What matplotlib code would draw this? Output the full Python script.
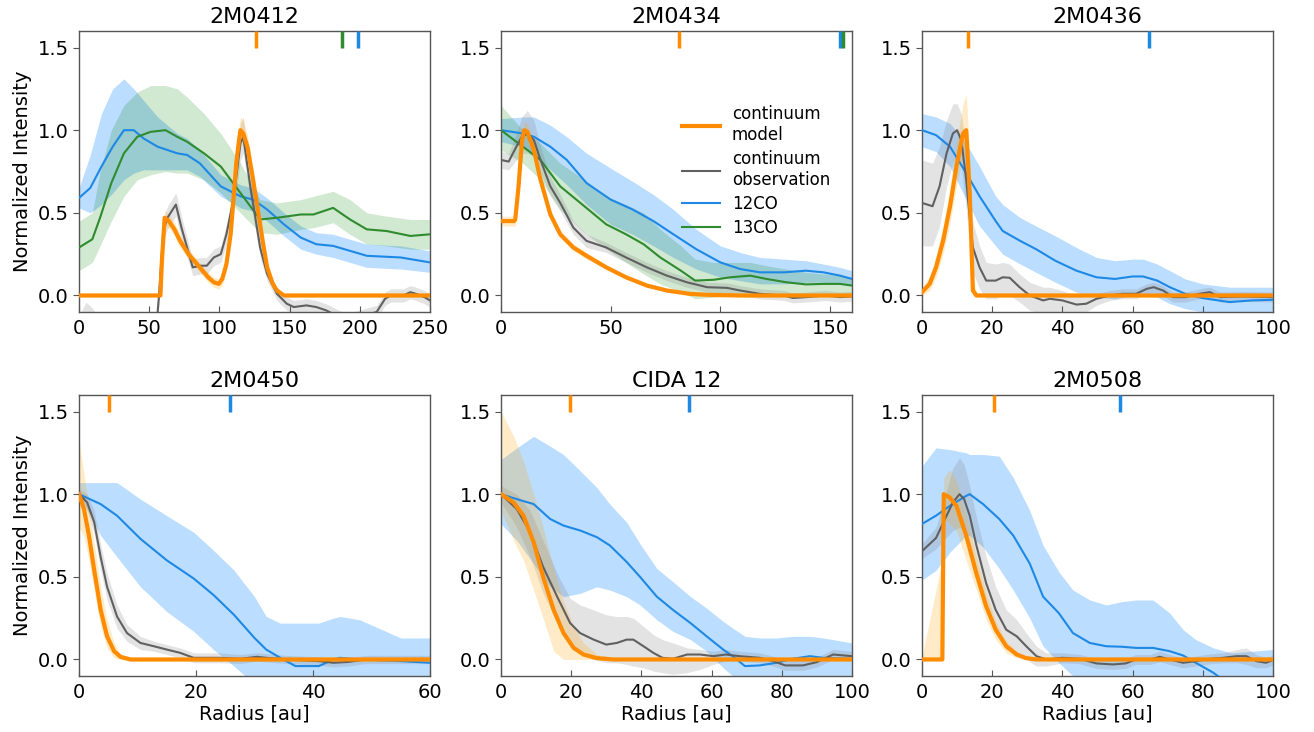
import matplotlib
matplotlib.use("Agg")
import matplotlib.pyplot as plt
from matplotlib.lines import Line2D

# ---------------- data ----------------
titles = ["2M0412", "2M0434", "2M0436", "2M0450", "CIDA 12", "2M0508"]
xlims = [250, 160, 100, 60, 100, 100]
xticks = [[0, 50, 100, 150, 200, 250], [0, 50, 100, 150], [0, 20, 40, 60, 80, 100],
          [0, 20, 40, 60], [0, 20, 40, 60, 80, 100], [0, 20, 40, 60, 80, 100]]
yticks = [0.0, 0.5, 1.0, 1.5]

# top markers (radius) per panel
mark_cont = [126, 81, 13.1, 5.1, 19.6, 20.5]
mark_12co = [199, 154.5, 64.6, 25.8, 53.6, 56.4]
mark_13co = [187, 156, None, None, None, None]

# ---- 2M0412 ----
p1_12_r = [0, 8, 16, 24, 32, 39, 46, 56, 70, 77, 86, 101, 115, 124, 134, 146, 158, 169, 181, 193, 205, 229, 250]
p1_12_y = [0.59, 0.65, 0.78, 0.90, 1.0, 1.0, 0.95, 0.90, 0.86, 0.85, 0.80, 0.66, 0.60, 0.58, 0.52, 0.43, 0.35, 0.31, 0.30, 0.27, 0.24, 0.23, 0.20]
p1_12_hi = [0.65, 0.85, 1.10, 1.25, 1.31, 1.25, 1.18, 1.08, 0.98, 0.95, 0.88, 0.73, 0.67, 0.65, 0.59, 0.50, 0.42, 0.38, 0.37, 0.34, 0.31, 0.30, 0.27]
p1_12_lo = [0.53, 0.50, 0.55, 0.62, 0.70, 0.74, 0.76, 0.76, 0.76, 0.76, 0.72, 0.60, 0.53, 0.51, 0.45, 0.36, 0.28, 0.25, 0.23, 0.20, 0.17, 0.16, 0.14]

p1_13_r = [0, 9.5, 15, 23, 32, 41.5, 51, 61.6, 70, 77, 89, 101, 115, 129, 141, 158, 167, 181, 193, 205, 219, 236, 250]
p1_13_y = [0.29, 0.34, 0.47, 0.68, 0.86, 0.96, 0.99, 1.0, 0.96, 0.93, 0.86, 0.78, 0.62, 0.46, 0.47, 0.49, 0.49, 0.53, 0.46, 0.40, 0.39, 0.36, 0.37]
p1_13_hi = [0.45, 0.50, 0.75, 1.00, 1.15, 1.23, 1.27, 1.27, 1.25, 1.20, 1.10, 0.98, 0.80, 0.58, 0.56, 0.58, 0.60, 0.63, 0.58, 0.50, 0.48, 0.46, 0.46]
p1_13_lo = [0.15, 0.20, 0.30, 0.45, 0.60, 0.70, 0.73, 0.75, 0.74, 0.74, 0.70, 0.62, 0.50, 0.38, 0.37, 0.40, 0.41, 0.44, 0.37, 0.31, 0.30, 0.28, 0.28]

p1_obs_r = [0, 5, 10, 15, 20, 55, 57, 60, 63, 69, 73, 81, 86.5, 91, 96, 101, 105, 110, 115, 117, 122, 129, 134, 141, 148, 153, 162, 169, 176, 190, 212, 218, 222, 231, 236, 240, 246, 250]
p1_obs_y = [-0.2, -0.12, -0.14, -0.2, -0.25, -0.2, 0.0, 0.39, 0.47, 0.55, 0.41, 0.17, 0.18, 0.18, 0.23, 0.25, 0.37, 0.58, 0.92, 0.96, 0.66, 0.29, 0.13, 0.01, -0.05, -0.07, -0.06, -0.07, -0.09, -0.15, -0.1, -0.02, 0.0, 0.0, 0.02, 0.01, -0.01, -0.03]
p1_obs_hi = [-0.12, -0.04, -0.08, -0.15, -0.2, -0.14, 0.06, 0.45, 0.54, 0.62, 0.48, 0.22, 0.23, 0.23, 0.28, 0.30, 0.43, 0.66, 1.04, 1.08, 0.74, 0.35, 0.17, 0.05, -0.01, -0.03, -0.02, -0.03, -0.05, -0.11, -0.06, 0.02, 0.04, 0.04, 0.06, 0.05, 0.03, 0.01]
p1_obs_lo = [-0.3, -0.2, -0.22, -0.27, -0.3, -0.26, -0.06, 0.33, 0.40, 0.48, 0.34, 0.12, 0.13, 0.13, 0.18, 0.20, 0.31, 0.50, 0.82, 0.86, 0.58, 0.23, 0.09, -0.03, -0.09, -0.11, -0.1, -0.11, -0.13, -0.19, -0.14, -0.06, -0.04, -0.04, -0.02, -0.03, -0.05, -0.07]

p1_mod_r = [0, 58, 59, 61, 64, 68, 72, 78, 86, 92, 96, 99.5, 102, 105, 108, 110, 112, 114, 115, 117, 120, 124, 127, 131, 134, 138, 141, 146, 250]
p1_mod_y = [0, 0, 0.2, 0.47, 0.45, 0.40, 0.33, 0.25, 0.17, 0.11, 0.08, 0.07, 0.10, 0.19, 0.37, 0.58, 0.80, 0.94, 1.0, 0.98, 0.90, 0.70, 0.54, 0.32, 0.17, 0.07, 0.03, 0.0, 0.0]
p1_mod_hi = [0.01, 0.01, 0.24, 0.52, 0.49, 0.44, 0.37, 0.28, 0.20, 0.14, 0.11, 0.10, 0.14, 0.24, 0.44, 0.66, 0.88, 1.03, 1.08, 1.06, 0.97, 0.76, 0.59, 0.36, 0.20, 0.09, 0.04, 0.01, 0.01]
p1_mod_lo = [-0.01, -0.01, 0.16, 0.42, 0.41, 0.36, 0.29, 0.22, 0.14, 0.08, 0.05, 0.04, 0.06, 0.14, 0.30, 0.50, 0.72, 0.86, 0.92, 0.90, 0.83, 0.64, 0.49, 0.28, 0.14, 0.05, 0.02, -0.01, -0.01]

# ---- 2M0434 ----
p2_12_r = [0, 10, 15, 22.5, 30, 39, 50, 60, 69.5, 78.6, 89, 100, 109, 118, 129, 139, 147, 154.5, 160]
p2_12_y = [1.0, 0.98, 0.96, 0.90, 0.82, 0.68, 0.58, 0.52, 0.45, 0.37, 0.28, 0.20, 0.16, 0.14, 0.14, 0.15, 0.14, 0.12, 0.10]
p2_12_hi = [1.07, 1.08, 1.08, 1.03, 0.96, 0.86, 0.77, 0.69, 0.61, 0.52, 0.40, 0.30, 0.26, 0.23, 0.22, 0.21, 0.19, 0.17, 0.15]
p2_12_lo = [0.93, 0.90, 0.86, 0.76, 0.67, 0.55, 0.43, 0.37, 0.30, 0.23, 0.16, 0.11, 0.09, 0.07, 0.07, 0.08, 0.08, 0.07, 0.06]

p2_13_r = [0, 10, 18, 27, 38, 48, 57, 65, 72.6, 82, 88.5, 97, 104.5, 113.6, 121, 130, 139, 147, 154.5, 160]
p2_13_y = [1.0, 0.90, 0.82, 0.66, 0.54, 0.43, 0.37, 0.31, 0.23, 0.15, 0.09, 0.095, 0.11, 0.12, 0.10, 0.08, 0.067, 0.07, 0.07, 0.06]
p2_13_hi = [1.15, 1.0, 0.92, 0.80, 0.70, 0.60, 0.55, 0.50, 0.40, 0.30, 0.22, 0.20, 0.20, 0.20, 0.18, 0.16, 0.14, 0.13, 0.12, 0.11]
p2_13_lo = [0.88, 0.80, 0.70, 0.52, 0.38, 0.28, 0.20, 0.13, 0.07, 0.02, -0.02, -0.01, 0.0, 0.02, 0.02, 0.01, 0.0, 0.0, 0.0, 0.0]

p2_obs_r = [0, 3.5, 7, 9.5, 12, 15, 18, 22.5, 27, 33, 39, 48, 57, 66.5, 75.6, 84.7, 94, 103, 109, 118, 129, 133, 139, 148, 154.5, 160]
p2_obs_y = [0.82, 0.81, 0.90, 0.96, 0.98, 0.94, 0.82, 0.66, 0.56, 0.41, 0.33, 0.29, 0.23, 0.17, 0.12, 0.08, 0.05, 0.046, 0.03, 0.01, 0.0, -0.015, -0.01, 0.0, -0.01, -0.005]
p2_obs_hi = [0.87, 0.86, 0.98, 1.08, 1.12, 1.06, 0.90, 0.72, 0.61, 0.45, 0.37, 0.32, 0.26, 0.20, 0.15, 0.11, 0.08, 0.076, 0.06, 0.04, 0.03, 0.015, 0.02, 0.03, 0.02, 0.025]
p2_obs_lo = [0.77, 0.76, 0.82, 0.86, 0.86, 0.84, 0.74, 0.60, 0.51, 0.37, 0.29, 0.26, 0.20, 0.14, 0.09, 0.05, 0.02, 0.016, 0.0, -0.02, -0.03, -0.045, -0.04, -0.03, -0.04, -0.035]

p2_mod_r = [0, 6, 6.5, 8, 9.6, 10.6, 12, 15, 18, 22.5, 27, 33, 39, 48, 57, 66.5, 75.6, 86, 94, 109, 160]
p2_mod_y = [0.45, 0.45, 0.46, 0.66, 0.94, 1.0, 0.99, 0.88, 0.70, 0.49, 0.37, 0.29, 0.24, 0.17, 0.11, 0.06, 0.03, 0.01, 0.004, 0.0, 0.0]
p2_mod_hi = [0.48, 0.48, 0.50, 0.72, 1.00, 1.05, 1.04, 0.92, 0.74, 0.52, 0.39, 0.31, 0.26, 0.18, 0.12, 0.07, 0.04, 0.02, 0.01, 0.01, 0.01]
p2_mod_lo = [0.42, 0.42, 0.42, 0.60, 0.88, 0.95, 0.94, 0.84, 0.66, 0.46, 0.35, 0.27, 0.22, 0.16, 0.10, 0.05, 0.02, 0.0, -0.01, -0.01, -0.01]

# ---- 2M0436 ----
p3_12_r = [0, 4, 8, 12.6, 16.4, 21, 23, 28, 32.5, 38, 44, 49.7, 55, 60, 63, 67, 70.6, 75, 80, 87.6, 94, 100]
p3_12_y = [1.0, 0.97, 0.90, 0.74, 0.60, 0.45, 0.39, 0.33, 0.28, 0.21, 0.15, 0.11, 0.10, 0.115, 0.115, 0.09, 0.05, 0.01, -0.016, -0.04, -0.03, -0.026]
p3_12_hi = [1.10, 1.08, 1.04, 0.92, 0.78, 0.60, 0.55, 0.47, 0.42, 0.36, 0.29, 0.23, 0.21, 0.22, 0.22, 0.19, 0.15, 0.10, 0.07, 0.05, 0.05, 0.05]
p3_12_lo = [0.90, 0.87, 0.78, 0.58, 0.42, 0.30, 0.25, 0.19, 0.14, 0.08, 0.02, -0.01, -0.02, 0.0, 0.0, -0.01, -0.05, -0.08, -0.10, -0.12, -0.11, -0.10]

p3_obs_r = [0, 3, 5, 7, 8.8, 10, 11.2, 12.6, 13.6, 14.5, 16.4, 18.3, 21, 23, 25, 27.8, 30.7, 34.5, 36.4, 40, 44, 46.8, 49.7, 53.5, 57, 61, 64, 66, 68.7, 71.5, 75, 79, 82, 85, 91.5, 100]
p3_obs_y = [0.56, 0.54, 0.66, 0.86, 0.98, 1.0, 0.94, 0.70, 0.47, 0.29, 0.17, 0.09, 0.09, 0.11, 0.107, 0.05, 0.0, -0.03, -0.02, -0.03, -0.055, -0.05, -0.02, 0.0, 0.01, 0.01, 0.04, 0.05, 0.03, -0.01, -0.01, 0.01, 0.02, -0.01, -0.006, -0.01]
p3_obs_hi = [0.82, 0.80, 0.90, 1.06, 1.16, 1.16, 1.10, 0.88, 0.64, 0.44, 0.30, 0.20, 0.19, 0.20, 0.19, 0.13, 0.08, 0.05, 0.05, 0.03, 0.0, -0.01, 0.01, 0.03, 0.04, 0.04, 0.07, 0.08, 0.06, 0.02, 0.02, 0.04, 0.05, 0.02, 0.024, 0.02]
p3_obs_lo = [0.30, 0.30, 0.42, 0.66, 0.80, 0.84, 0.78, 0.52, 0.30, 0.14, 0.04, -0.02, -0.02, 0.0, 0.0, -0.04, -0.09, -0.11, -0.1, -0.1, -0.11, -0.1, -0.06, -0.03, -0.02, -0.02, 0.01, 0.02, 0.0, -0.04, -0.04, -0.02, -0.01, -0.04, -0.036, -0.04]

p3_mod_r = [0, 2.2, 4, 6, 8, 9.8, 11.7, 12.6, 13.6, 14.5, 15.5, 100]
p3_mod_y = [0.02, 0.07, 0.17, 0.33, 0.54, 0.78, 0.98, 1.0, 0.62, 0.03, 0.0, 0.0]
p3_mod_hi = [0.05, 0.12, 0.24, 0.42, 0.66, 0.92, 1.16, 1.22, 0.86, 0.12, 0.01, 0.01]
p3_mod_lo = [0.0, 0.03, 0.11, 0.25, 0.44, 0.66, 0.84, 0.86, 0.40, 0.0, -0.01, -0.01]

# ---- 2M0450 ----
p4_12_r = [0, 3.7, 6.5, 10.5, 15, 19.6, 23, 26.5, 30, 32, 34.4, 37, 41, 43.5, 44.6, 48, 55, 60]
p4_12_y = [1.0, 0.94, 0.87, 0.73, 0.60, 0.49, 0.39, 0.27, 0.13, 0.06, 0.01, -0.04, -0.04, 0.0, 0.01, 0.0, -0.01, -0.02]
p4_12_hi = [1.07, 1.07, 1.07, 0.97, 0.87, 0.77, 0.66, 0.54, 0.38, 0.26, 0.22, 0.22, 0.22, 0.25, 0.26, 0.24, 0.13, 0.13]
p4_12_lo = [1.0, 0.75, 0.62, 0.44, 0.29, 0.17, 0.06, -0.04, -0.15, -0.2, -0.2, -0.2, -0.2, -0.2, -0.2, -0.2, -0.2, -0.2]

p4_obs_r = [0, 1.4, 2.6, 3.7, 4.8, 6.5, 8.2, 10.5, 12.8, 15, 17.3, 19.6, 21.9, 24, 27.6, 30.4, 32, 35.5, 41, 43.5, 46, 49, 60]
p4_obs_y = [1.0, 0.95, 0.83, 0.62, 0.44, 0.26, 0.16, 0.10, 0.08, 0.06, 0.04, 0.01, 0.01, 0.01, 0.004, 0.016, 0.01, 0.0, -0.01, -0.02, -0.015, 0.0, 0.0]
p4_obs_hi = [1.03, 1.0, 0.90, 0.70, 0.52, 0.33, 0.21, 0.14, 0.11, 0.09, 0.07, 0.04, 0.04, 0.04, 0.03, 0.04, 0.035, 0.025, 0.015, 0.005, 0.01, 0.025, 0.025]
p4_obs_lo = [0.97, 0.90, 0.76, 0.54, 0.36, 0.19, 0.11, 0.06, 0.05, 0.03, 0.01, -0.02, -0.02, -0.02, -0.025, -0.01, -0.015, -0.025, -0.035, -0.045, -0.04, -0.025, -0.025]

p4_mod_r = [0, 0.85, 1.7, 2.6, 3.7, 4.8, 6, 7.1, 8.8, 60]
p4_mod_y = [1.0, 0.91, 0.75, 0.54, 0.30, 0.14, 0.05, 0.016, 0.0, 0.0]
p4_mod_hi = [1.33, 1.12, 0.92, 0.70, 0.44, 0.24, 0.10, 0.03, 0.01, 0.01]
p4_mod_lo = [0.80, 0.74, 0.60, 0.42, 0.20, 0.07, 0.01, 0.0, -0.01, -0.01]

# ---- CIDA 12 ----
p5_12_r = [0, 4.5, 9.3, 14, 17.8, 22.6, 27.3, 31, 35.8, 39.6, 44.4, 49, 54, 58.6, 63.3, 66, 69.5, 73.7, 78.5, 83, 88, 91.8, 100]
p5_12_y = [1.0, 0.97, 0.94, 0.85, 0.81, 0.78, 0.74, 0.69, 0.59, 0.50, 0.38, 0.30, 0.22, 0.14, 0.06, 0.02, -0.04, -0.036, -0.02, 0.004, 0.02, 0.01, 0.004]
p5_12_hi = [1.21, 1.28, 1.35, 1.29, 1.24, 1.14, 1.04, 0.94, 0.83, 0.70, 0.55, 0.47, 0.38, 0.31, 0.23, 0.19, 0.14, 0.13, 0.13, 0.14, 0.14, 0.13, 0.10]
p5_12_lo = [0.82, 0.72, 0.58, 0.44, 0.38, 0.40, 0.44, 0.42, 0.38, 0.33, 0.24, 0.17, 0.12, 0.05, -0.05, -0.1, -0.15, -0.15, -0.15, -0.15, -0.15, -0.15, -0.15]

p5_obs_r = [0, 4.5, 8.3, 12, 16, 19.7, 22.5, 26.4, 30, 33, 35.8, 37.7, 40.6, 43.4, 46, 49, 53, 56.7, 60.5, 64, 68, 73.7, 77.5, 81, 86, 90, 94.6, 100]
p5_obs_y = [1.0, 0.91, 0.77, 0.56, 0.38, 0.22, 0.16, 0.12, 0.09, 0.10, 0.12, 0.12, 0.08, 0.04, 0.01, 0.004, 0.03, 0.03, 0.02, 0.03, 0.02, 0.01, -0.01, -0.036, -0.036, -0.016, 0.03, 0.02]
p5_obs_hi = [1.05, 1.0, 0.90, 0.72, 0.52, 0.37, 0.33, 0.30, 0.27, 0.26, 0.26, 0.25, 0.20, 0.15, 0.12, 0.10, 0.07, 0.06, 0.05, 0.06, 0.05, 0.04, 0.02, -0.006, -0.006, 0.014, 0.06, 0.05]
p5_obs_lo = [0.95, 0.80, 0.62, 0.40, 0.22, 0.10, 0.04, 0.0, -0.02, -0.02, -0.03, -0.04, -0.05, -0.07, -0.08, -0.09, -0.08, -0.06, -0.03, -0.01, -0.01, -0.02, -0.04, -0.066, -0.066, -0.046, 0.0, -0.01]

p5_mod_r = [0, 3.6, 6.4, 9.3, 12, 15, 17.8, 20.7, 23.5, 27.3, 32, 100]
p5_mod_y = [1.0, 0.95, 0.87, 0.71, 0.50, 0.30, 0.16, 0.07, 0.03, 0.008, 0.0, 0.0]
p5_mod_hi = [1.50, 1.35, 1.20, 1.00, 0.80, 0.55, 0.35, 0.20, 0.10, 0.03, 0.01, 0.01]
p5_mod_lo = [0.90, 0.72, 0.60, 0.42, 0.25, 0.05, 0.0, 0.0, 0.0, 0.0, 0.0, 0.0]

# ---- 2M0508 ----
p6_12_r = [0, 4, 8, 12.6, 13.6, 17.4, 22, 26, 30.7, 34.5, 39, 43, 47.8, 52.5, 57, 61, 65.8, 70.6, 74.4, 78, 83, 88, 100]
p6_12_y = [0.82, 0.87, 0.93, 0.99, 1.0, 0.94, 0.85, 0.75, 0.58, 0.38, 0.28, 0.16, 0.10, 0.08, 0.077, 0.07, 0.07, 0.05, 0.024, -0.02, -0.08, -0.16, -0.35]
p6_12_hi = [1.17, 1.28, 1.27, 1.25, 1.24, 1.24, 1.23, 1.10, 0.90, 0.69, 0.53, 0.42, 0.36, 0.33, 0.35, 0.36, 0.36, 0.28, 0.18, 0.12, 0.07, 0.04, 0.06]
p6_12_lo = [0.48, 0.54, 0.65, 0.75, 0.75, 0.68, 0.55, 0.42, 0.25, 0.08, -0.02, -0.1, -0.2, -0.2, -0.2, -0.2, -0.2, -0.2, -0.2, -0.2, -0.2, -0.2, -0.2]

p6_obs_r = [0, 4, 7, 8.8, 10.7, 12, 13.6, 15.5, 18.3, 21, 24, 27, 29.7, 32.6, 35.4, 40, 45, 49.7, 54.4, 58, 61, 65, 67.7, 70.6, 74.4, 78, 82, 85.8, 89.6, 92.4, 95.2, 98, 100]
p6_obs_y = [0.655, 0.735, 0.87, 0.95, 1.0, 0.97, 0.87, 0.69, 0.46, 0.30, 0.18, 0.14, 0.08, 0.02, 0.0, 0.01, 0.004, -0.024, -0.03, -0.024, 0.0, 0.0, 0.016, 0.0, -0.02, -0.01, 0.004, 0.01, 0.02, 0.02, -0.01, -0.02, -0.004]
p6_obs_hi = [0.70, 0.80, 1.02, 1.16, 1.22, 1.18, 1.05, 0.86, 0.62, 0.44, 0.30, 0.24, 0.16, 0.08, 0.04, 0.04, 0.03, 0.006, 0.0, 0.006, 0.03, 0.03, 0.05, 0.03, 0.01, 0.02, 0.034, 0.04, 0.06, 0.07, 0.03, 0.01, 0.026]
p6_obs_lo = [0.61, 0.67, 0.74, 0.78, 0.80, 0.78, 0.70, 0.52, 0.30, 0.16, 0.06, 0.04, 0.0, -0.04, -0.04, -0.02, -0.026, -0.054, -0.06, -0.054, -0.03, -0.03, -0.014, -0.03, -0.05, -0.04, -0.026, -0.02, -0.02, -0.03, -0.05, -0.05, -0.034]

p6_mod_r = [0, 5.8, 6.2, 7.9, 9.8, 12.6, 15.5, 18.3, 21, 24, 27, 29.7, 32.6, 100]
p6_mod_y = [0, 0, 1.0, 0.98, 0.93, 0.75, 0.52, 0.32, 0.18, 0.08, 0.03, 0.008, 0.0, 0.0]
p6_mod_hi = [0.02, 0.60, 1.10, 1.15, 1.08, 0.88, 0.62, 0.40, 0.23, 0.11, 0.05, 0.015, 0.005, 0.005]
p6_mod_lo = [0.0, 0.0, 0.85, 0.82, 0.78, 0.60, 0.42, 0.24, 0.12, 0.04, 0.01, 0.0, 0.0, 0.0]

# ---------------- style ----------------
C_ORANGE = "#FF8C00"
C_BLUE = "#1E88E5"
C_BLUE_BAND = "#1E90FF"
C_GREEN = "#2E8B2E"
C_GRAY = "#606060"

panels = [
    dict(co12=(p1_12_r, p1_12_y, p1_12_lo, p1_12_hi), co13=(p1_13_r, p1_13_y, p1_13_lo, p1_13_hi),
         obs=(p1_obs_r, p1_obs_y, p1_obs_lo, p1_obs_hi), mod=(p1_mod_r, p1_mod_y, p1_mod_lo, p1_mod_hi)),
    dict(co12=(p2_12_r, p2_12_y, p2_12_lo, p2_12_hi), co13=(p2_13_r, p2_13_y, p2_13_lo, p2_13_hi),
         obs=(p2_obs_r, p2_obs_y, p2_obs_lo, p2_obs_hi), mod=(p2_mod_r, p2_mod_y, p2_mod_lo, p2_mod_hi)),
    dict(co12=(p3_12_r, p3_12_y, p3_12_lo, p3_12_hi), co13=None,
         obs=(p3_obs_r, p3_obs_y, p3_obs_lo, p3_obs_hi), mod=(p3_mod_r, p3_mod_y, p3_mod_lo, p3_mod_hi)),
    dict(co12=(p4_12_r, p4_12_y, p4_12_lo, p4_12_hi), co13=None,
         obs=(p4_obs_r, p4_obs_y, p4_obs_lo, p4_obs_hi), mod=(p4_mod_r, p4_mod_y, p4_mod_lo, p4_mod_hi)),
    dict(co12=(p5_12_r, p5_12_y, p5_12_lo, p5_12_hi), co13=None,
         obs=(p5_obs_r, p5_obs_y, p5_obs_lo, p5_obs_hi), mod=(p5_mod_r, p5_mod_y, p5_mod_lo, p5_mod_hi)),
    dict(co12=(p6_12_r, p6_12_y, p6_12_lo, p6_12_hi), co13=None,
         obs=(p6_obs_r, p6_obs_y, p6_obs_lo, p6_obs_hi), mod=(p6_mod_r, p6_mod_y, p6_mod_lo, p6_mod_hi)),
]

W, H = 1314, 732
fig = plt.figure(figsize=(W / 100, H / 100), dpi=100)
lefts = [79, 501, 922]
tops = [31, 395]
aw, ah = 351, 281

for i, p in enumerate(panels):
    row, col = divmod(i, 3)
    ax = fig.add_axes([lefts[col] / W, (H - tops[row] - ah) / H, aw / W, ah / H])

    r, y, lo, hi = p["co12"]
    ax.fill_between(r, lo, hi, color=C_BLUE_BAND, alpha=0.3, lw=0, zorder=1)
    if p["co13"] is not None:
        r13, y13, lo13, hi13 = p["co13"]
        ax.fill_between(r13, lo13, hi13, color="green", alpha=0.18, lw=0, zorder=1)
    ro, yo, loo, hio = p["obs"]
    ax.fill_between(ro, loo, hio, color="gray", alpha=0.22, lw=0, zorder=1)
    rm, ym, lom, him = p["mod"]
    ax.fill_between(rm, lom, him, color="orange", alpha=0.22, lw=0, zorder=1)

    ax.plot(r, y, color=C_BLUE, lw=1.5, zorder=3)
    if p["co13"] is not None:
        ax.plot(r13, y13, color=C_GREEN, lw=1.5, zorder=3)
    ax.plot(ro, yo, color=C_GRAY, lw=1.5, zorder=3)
    ax.plot(rm, ym, color=C_ORANGE, lw=3, zorder=4)

    ax.vlines(mark_cont[i], 1.5, 1.6, color=C_ORANGE, lw=2.5, zorder=5)
    ax.vlines(mark_12co[i], 1.5, 1.6, color=C_BLUE, lw=2.5, zorder=5)
    if mark_13co[i] is not None:
        ax.vlines(mark_13co[i], 1.5, 1.6, color=C_GREEN, lw=2.5, zorder=5)

    ax.set_xlim(0, xlims[i])
    ax.set_ylim(-0.1, 1.6)
    ax.set_xticks(xticks[i])
    ax.set_yticks(yticks)
    ax.tick_params(labelsize=14, color="#555555", length=4)
    ax.tick_params(axis="x", direction="in", pad=5)
    for s in ax.spines.values():
        s.set_color("#555555")
        s.set_linewidth(1.0)
    ax.set_title(titles[i], fontsize=16, pad=6)
    if col == 0:
        ax.set_ylabel("Normalized Intensity", fontsize=14)
    if row == 1:
        ax.set_xlabel("Radius [au]", fontsize=14, labelpad=2)

    if i == 1:
        handles = [Line2D([], [], color=C_ORANGE, lw=3),
                   Line2D([], [], color=C_GRAY, lw=1.5),
                   Line2D([], [], color=C_BLUE, lw=1.5),
                   Line2D([], [], color=C_GREEN, lw=1.5)]
        labels = ["continuum\nmodel", "continuum\nobservation", "12CO", "13CO"]
        ax.legend(handles, labels, loc="upper left", bbox_to_anchor=(0.515, 0.735),
                  frameon=False, fontsize=12, handlelength=2.3, handletextpad=0.7,
                  borderaxespad=0, borderpad=0, labelspacing=0.35)

fig.savefig("out.png", dpi=100)
